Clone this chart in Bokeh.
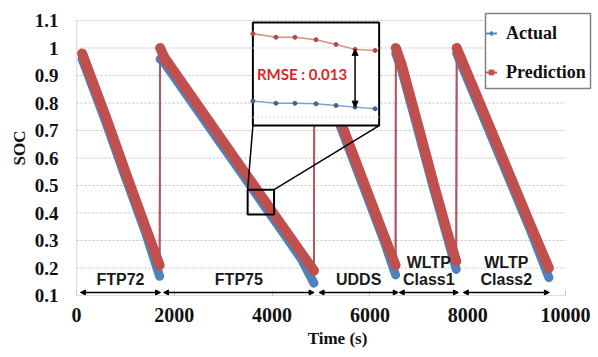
from bokeh.plotting import figure
from bokeh.models import (ColumnDataSource, FixedTicker, Legend, LegendItem, Arrow,
                          NormalHead, Range1d, Label)
from bokeh.core.properties import value
from bokeh.embed import file_html
from bokeh.resources import INLINE

# ---------------- data ----------------
x_ticks = [0, 2000, 4000, 6000, 8000, 10000]
y_ticks = [0.1, 0.2, 0.3, 0.4, 0.5, 0.6, 0.7, 0.8, 0.9, 1.0, 1.1]
y_tick_labels = ["0.1", "0.2", "0.3", "0.4", "0.5", "0.6", "0.7", "0.8", "0.9", "1", "1.1"]

ftp72_t = [115, 200, 600, 1000, 1400, 1700]
ftp72_actual = [0.96, 0.92, 0.73, 0.53, 0.335, 0.17]
ftp72_pred = [0.98, 0.94, 0.75, 0.55, 0.355, 0.21]

ftp75_t = [1710, 1800, 2200, 2700, 3200, 3700, 4200, 4600, 4855]
ftp75_actual = [0.96, 0.945, 0.843, 0.716, 0.589, 0.462, 0.335, 0.232, 0.145]
ftp75_pred = [1.0, 0.965, 0.863, 0.736, 0.609, 0.482, 0.355, 0.254, 0.19]

udds_t = [4865, 5000, 5450, 5900, 6300, 6525]
udds_actual = [0.97, 0.90, 0.69, 0.48, 0.293, 0.175]
udds_pred = [0.99, 0.92, 0.71, 0.50, 0.313, 0.21]

wltp1_t = [6530, 6650, 7000, 7300, 7600, 7765]
wltp1_actual = [0.98, 0.92, 0.69, 0.49, 0.30, 0.195]
wltp1_pred = [1.0, 0.94, 0.71, 0.51, 0.32, 0.225]

wltp2_t = [7775, 8100, 8500, 8900, 9300, 9660]
wltp2_actual = [0.98, 0.843, 0.672, 0.501, 0.33, 0.165]
wltp2_pred = [1.0, 0.863, 0.692, 0.521, 0.35, 0.20]

cycle_top = ["", "", "", "WLTP", "WLTP"]
cycle_bottom = ["FTP72", "FTP75", "UDDS", "Class1", "Class2"]
cycle_start = [80, 1780, 4960, 6600, 7910]
cycle_end = [1720, 4860, 6580, 7810, 9670]

# zoomed-in samples shown in the inset
inset_t = [3607, 4078, 4467, 4898, 5307, 5697, 6107]
inset_pred = [1.052, 1.039, 1.039, 1.030, 1.013, 0.995, 0.991]
inset_actual = [0.807, 0.799, 0.799, 0.797, 0.791, 0.785, 0.779]
rmse_text = "RMSE : 0.013"

# ---------------- styling ----------------
RED = "#C0504D"
BLUE = "#4F81BD"
GRAY = "#BFBFBF"
SERIF = "'Liberation Serif'"
X_MAX = x_ticks[-1]
Y_MIN, Y_MAX = y_ticks[0], y_ticks[-1]

# layout in pixels: data area 0..10000 spans x 76..565, SOC 0.1..1.1 spans y 295..20.
# The frame is extended to the canvas' right and top edges so the legend is not clipped.
PX_PER_X = 489 / X_MAX
PX_PER_Y = 275 / (Y_MAX - Y_MIN)
X_VIEW_END = X_MAX + 33 / PX_PER_X
Y_VIEW_END = Y_MAX + 20 / PX_PER_Y


def px_x(px):
    return (px - 76) / PX_PER_X


def px_y(py):
    return Y_MAX - (py - 20) / PX_PER_Y


p = figure(width=598, height=357, output_backend="svg", toolbar_location=None,
           x_range=Range1d(0, X_VIEW_END), y_range=Range1d(Y_MIN, Y_VIEW_END),
           min_border_left=76, min_border_right=0, min_border_top=0,
           min_border_bottom=62)
p.outline_line_color = None
p.background_fill_color = "white"

p.xaxis.ticker = FixedTicker(ticks=x_ticks)
p.yaxis.ticker = FixedTicker(ticks=y_ticks)
p.yaxis.major_label_overrides = {t: l for t, l in zip(y_ticks, y_tick_labels)}

for ax in (p.xaxis, p.yaxis):
    ax.axis_line_color = None
    ax.major_tick_line_color = GRAY
    ax.minor_tick_line_color = None
    ax.major_label_text_font = SERIF
    ax.major_label_text_font_style = "bold"
    ax.major_label_text_color = "#111111"
    ax.axis_label_text_font = SERIF
    ax.axis_label_text_font_style = "bold"
    ax.axis_label_text_font_size = "17px"
    ax.axis_label_text_color = "#111111"

p.xaxis.major_tick_in = 5
p.xaxis.major_tick_out = 0
p.xaxis.major_label_text_font_size = "20px"
p.xaxis.major_label_standoff = 12
p.xaxis.axis_label = "Time (s)"
p.xaxis.axis_label_standoff = 4

p.yaxis.major_tick_in = 0
p.yaxis.major_tick_out = 0
p.yaxis.major_label_text_font_size = "19px"
p.yaxis.major_label_standoff = 18
p.yaxis.axis_label = "SOC"
p.yaxis.axis_label_standoff = 3

p.xgrid.grid_line_color = None
p.ygrid.grid_line_color = None

# gridlines and axis lines drawn only over the data area
p.segment(x0=[0] * (len(y_ticks) - 1), x1=[X_MAX] * (len(y_ticks) - 1),
          y0=y_ticks[1:], y1=y_ticks[1:], line_color=GRAY, line_dash="2 2", line_width=1)
p.segment(x0=[0, 0], x1=[X_MAX, 0], y0=[Y_MIN, Y_MIN], y1=[Y_MIN, Y_MAX],
          line_color=GRAY, line_width=1.2)

seg_t = [ftp72_t, ftp75_t, udds_t, wltp1_t, wltp2_t]
seg_actual = [ftp72_actual, ftp75_actual, udds_actual, wltp1_actual, wltp2_actual]
seg_pred = [ftp72_pred, ftp75_pred, udds_pred, wltp1_pred, wltp2_pred]

all_t = [v for s in seg_t for v in s]
all_actual = [v for s in seg_actual for v in s]
all_pred = [v for s in seg_pred for v in s]

# dense-marker bands
p.multi_line(xs=seg_t, ys=seg_actual, line_color=BLUE, line_width=9, line_cap="round")
a_line = p.line(all_t, all_actual, line_color=BLUE, line_width=1.8)
a_pts = p.scatter(all_t, all_actual, marker="diamond", size=7, color=BLUE)
p.multi_line(xs=seg_t, ys=seg_pred, line_color=RED, line_width=10, line_cap="round")
p_line = p.line(all_t, all_pred, line_color=RED, line_width=1.8)
p_pts = p.scatter(all_t, all_pred, marker="square", size=6, color=RED)

# zoom box and connectors
p.quad(left=[3500], right=[4040], top=[0.485], bottom=[0.395],
       fill_color=None, line_color="black", line_width=2)
p.segment(x0=[3500, 4040], y0=[0.485, 0.485], x1=[3607, 6189], y1=[0.718, 0.718],
          line_color="black", line_width=1.5)

# inset
p.quad(left=[3607], right=[6189], top=[1.093], bottom=[0.718],
       fill_color="white", line_color="black", line_width=2)
p.segment(x0=[3607, 3607], y0=[1.0, 0.748], x1=[6189, 6189], y1=[1.0, 0.748],
          line_color="#D9D9D9", line_dash="2 2", line_width=1)
p.line(inset_t, inset_pred, line_color="#D98C8A", line_width=1.5)
p.scatter(inset_t, inset_pred, marker="circle", size=4, color="#B04A47")
p.line(inset_t, inset_actual, line_color="#7F9FC8", line_width=1.5)
p.scatter(inset_t, inset_actual, marker="circle", size=4, color="#3F6499")
p.add_layout(Arrow(x_start=inset_t[5], y_start=inset_actual[5],
                   x_end=inset_t[5], y_end=inset_pred[5],
                   start=NormalHead(size=6, fill_color="black", line_color="black"),
                   end=NormalHead(size=6, fill_color="black", line_color="black"),
                   line_color="black", line_width=1.5))
p.add_layout(Label(x=3689, y=0.907, text=rmse_text, text_font="Lato",
                   text_font_style="bold", text_font_size="15px",
                   text_color="#D8262C", text_baseline="middle"))

# cycle arrows and labels
arr_src = ColumnDataSource(dict(x0=cycle_start, x1=cycle_end, y=[0.111] * len(cycle_start)))
p.add_layout(Arrow(x_start="x0", y_start="y", x_end="x1", y_end="y", source=arr_src,
                   start=NormalHead(size=5, fill_color="black", line_color="black"),
                   end=NormalHead(size=5, fill_color="black", line_color="black"),
                   line_color="black", line_width=1.3))
lab_src = ColumnDataSource(dict(
    x=[(a + b) / 2 for a, b in zip(cycle_start, cycle_end)],
    y=[0.158] * len(cycle_start), top=cycle_top, bottom=cycle_bottom))
p.text(x="x", y="y", text="bottom", source=lab_src, text_font=value("Liberation Sans"),
       text_font_style="bold", text_font_size="16px", text_color="#1A1A1A",
       text_align="center", text_baseline="middle")
p.text(x="x", y="y", text="top", source=lab_src, text_font=value("Liberation Sans"),
       text_font_style="bold", text_font_size="16px", text_color="#1A1A1A",
       text_align="center", text_baseline="middle", y_offset=-17)

# legend frame (pixel box 485..590 x 13..88)
p.quad(left=[px_x(485)], right=[px_x(590)], top=[px_y(13)], bottom=[px_y(88)],
       fill_color="white", line_color="#808080", line_width=1.5)

legend = Legend(items=[LegendItem(label="Actual", renderers=[a_line, a_pts]),
                       LegendItem(label="Prediction", renderers=[p_line, p_pts])],
                location=(409, 208), label_text_font=SERIF, label_text_font_style="bold",
                label_text_font_size="18px", label_text_color="#111111",
                border_line_color=None,
                padding=3, spacing=9, glyph_width=12, glyph_height=30,
                label_height=30, label_standoff=9, margin=0,
                background_fill_alpha=0)
p.add_layout(legend)

open("out.html", "w").write(file_html(p, INLINE))
